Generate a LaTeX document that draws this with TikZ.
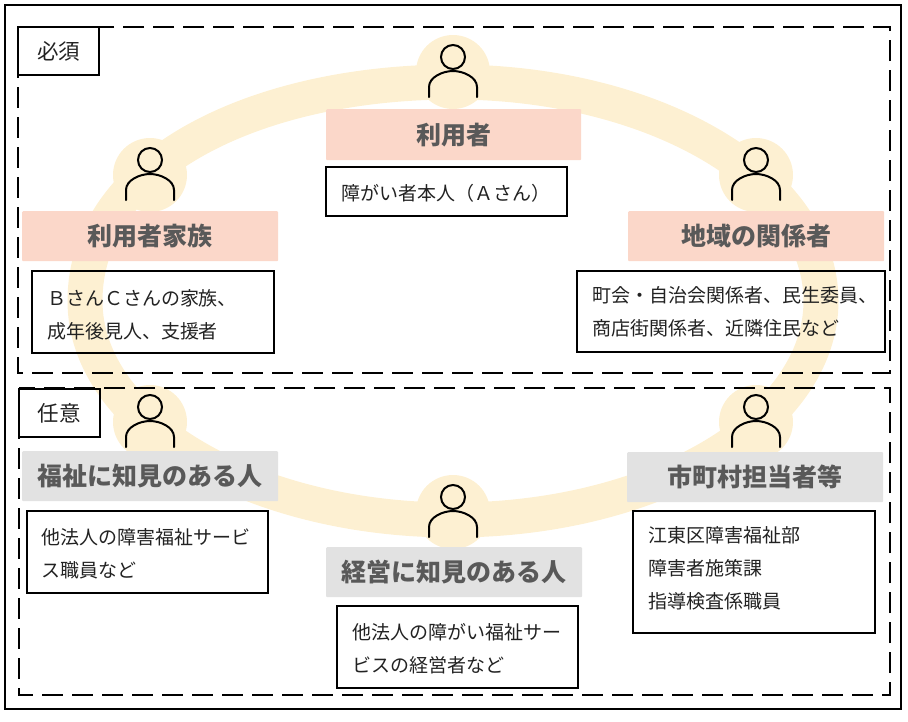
\documentclass[tikz,border=0pt]{standalone}
\usepackage{fontspec}
\setmainfont{Noto Sans CJK JP}
\definecolor{anello}{HTML}{FDF0D2}
\definecolor{rosa}{HTML}{FBD7C9}
\definecolor{grigio}{HTML}{E2E2E2}
\definecolor{scritta}{HTML}{595959}
\definecolor{testo}{HTML}{222222}
\tikzset{
	etichetta/.style={anchor=north west,inner sep=0pt,rounded corners=1pt,font=\fontsize{25}{30}\selectfont\bfseries,text=scritta},
	scatola/.style={anchor=north west,draw=black,line width=2.7pt,inner sep=0pt,outer sep=0pt,text=testo,font=\fontsize{19}{33}\selectfont},
	cornice/.style={draw=black,line width=2.5pt,dash pattern=on 21pt off 9pt}
}
% persona: x, y della testa
\newcommand{\persona}[3]{
	\fill[anello] (#2,#3+15) circle (37);
	\node[circle,draw=black,line width=2pt,minimum size=24pt,inner sep=0pt] (#1) at (#2,#3) {};
	\draw[line width=2pt,line cap=round] (#2-24,#3+40) -- (#2-24,#3+30) .. controls (#2-24,#3+20) and (#2-10,#3+14) .. (#2,#3+14) .. controls (#2+10,#3+14) and (#2+24,#3+20) .. (#2+24,#3+30) -- (#2+24,#3+40);
}
\newcommand{\etichetta}[6]{
	\node[etichetta,fill=#6,minimum width=#4pt,minimum height=#5pt] (#1) at (#2,#3) {#1};
}
\newcommand{\scatola}[8]{
	\node[scatola,minimum height=#5pt,minimum width=#4pt] (#1) at (#2,#3) {\hspace*{#6pt}\raisebox{\dimexpr#7pt-4.75pt\relax}[0pt][0pt]{\parbox[c]{\dimexpr#4pt-#6pt\relax}{#8}}};
}
\begin{document}
\begin{tikzpicture}[x=1pt,y=-1pt]
	\useasboundingbox (0,0) rectangle (908,721);
	\draw[anello,line width=35pt] (453,82) .. controls (255,82) and (85,165) .. (85,301) .. controls (85,422) and (250,520) .. (453,520) .. controls (656,520) and (821,422) .. (821,301) .. controls (821,180) and (656,82) .. cycle;
	\persona{p1}{453}{57}
	\persona{p2}{150}{160}
	\persona{p3}{756}{160}
	\persona{p4}{150}{407}
	\persona{p5}{756}{407}
	\persona{p6}{453}{497}
	\etichetta{利用者}{326}{109}{255}{51}{rosa}
	\etichetta{利用者家族}{22}{211}{256}{50}{rosa}
	\etichetta{地域の関係者}{628}{211}{256}{50}{rosa}
	\etichetta{福祉に知見のある人}{22}{451}{256}{50}{grigio}
	\etichetta{市町村担当者等}{627}{452}{256}{50}{grigio}
	\etichetta{経営に知見のある人}{326}{547}{256}{50}{grigio}
	\scatola{b1}{326}{167}{241}{49}{15}{-1}{障がい者本人（Ａさん）}
	\scatola{b2}{32}{271}{242}{82}{15}{-2}{ＢさんＣさんの家族、\\成年後見人、支援者}
	\scatola{b3}{577}{271}{308}{81}{15}{0}{町会・自治会関係者、民生委員、\\商店街関係者、近隣住民など}
	\scatola{b4}{27}{511}{241}{82}{15}{-1}{他法人の障害福祉サービ\\ス職員など}
	\scatola{b5}{633}{511}{242}{122}{15}{4}{江東区障害福祉部\\障害者施策課\\指導検査係職員}
	\scatola{b6}{337}{606}{241}{82}{15}{-1}{他法人の障がい福祉サー\\ビスの経営者など}
	\draw[cornice] (18,27) rectangle (890,373);
	\draw[cornice] (19,388) rectangle (890,695);
	\scatola{t1}{18}{27}{81}{48}{19}{0}{\fontsize{21.5}{33}\selectfont 必須}
	\scatola{t2}{19}{389}{81}{48}{19}{0}{\fontsize{21.5}{33}\selectfont 任意}
	\draw[line width=2.7pt] (5,5) rectangle (901,709);
\end{tikzpicture}
\end{document}
